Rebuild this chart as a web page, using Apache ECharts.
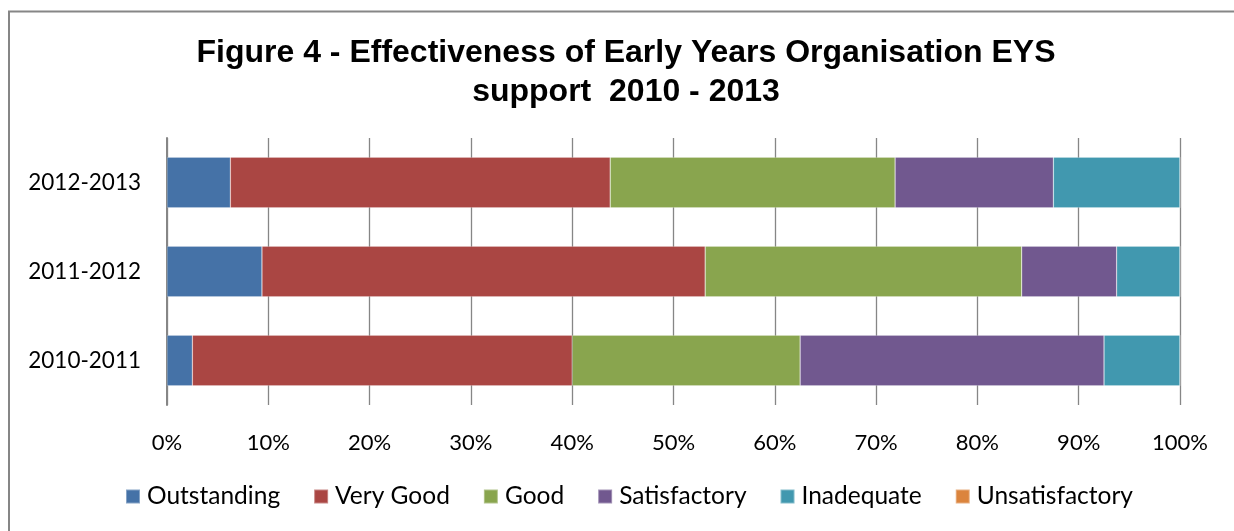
<!DOCTYPE html>
<html>
<head>
<meta charset="utf-8">
<script src="https://cdn.jsdelivr.net/npm/echarts@6/dist/echarts.min.js"></script>
<style>
  html, body { margin: 0; padding: 0; background: #fff; }
  #chart { width: 1234px; height: 531px; }
</style>
</head>
<body>
<div id="chart"></div>
<script>
// Share of ratings per school year (percent of settings)
const categories = ['2010-2011', '2011-2012', '2012-2013'];
const seriesNames = ['Outstanding', 'Very Good', 'Good', 'Satisfactory', 'Inadequate', 'Unsatisfactory'];
const outstanding = [2.5, 9.375, 6.25];
const veryGood = [37.5, 43.75, 37.5];
const good = [22.5, 31.25, 28.125];
const satisfactory = [30, 9.375, 15.625];
const inadequate = [7.5, 6.25, 12.5];
const unsatisfactory = [0, 0, 0];
const tickLabels = ['0%', '10%', '20%', '30%', '40%', '50%', '60%', '70%', '80%', '90%', '100%'];

const colors = ['#4572A7', '#AA4643', '#89A54E', '#71588F', '#4198AF', '#DB843D'];
const values = [outstanding, veryGood, good, satisfactory, inadequate, unsatisfactory];
const bodyFont = 'Lato';

const chart = echarts.init(document.getElementById('chart'), null, { renderer: 'canvas' });

chart.setOption({
  animation: false,
  backgroundColor: '#ffffff',
  color: colors,
  graphic: [{
    type: 'rect',
    shape: { x: 9, y: 11.5, width: 1260, height: 560 },
    style: { fill: null, stroke: '#868686', lineWidth: 2 },
    z: 100
  }],
  title: {
    text: 'Figure 4 - Effectiveness of Early Years Organisation EYS\nsupport  2010 - 2013',
    left: 621,
    top: 29,
    textAlign: 'center',
    textStyle: {
      fontFamily: 'Liberation Sans',
      fontWeight: 'bold',
      fontSize: 32,
      lineHeight: 39,
      color: '#000'
    }
  },
  legend: {
    data: seriesNames,
    left: 125,
    top: 484,
    padding: 0,
    icon: 'rect',
    itemWidth: 14,
    itemHeight: 14,
    itemGap: 33,
    textStyle: { fontFamily: bodyFont, fontSize: 24.5, color: '#000', padding: [0, 0, 0, 2] }
  },
  grid: { left: 167, right: 54, top: 138, bottom: 126 },
  xAxis: {
    type: 'value',
    min: 0,
    max: 100,
    interval: 10,
    axisLine: { show: false },
    axisTick: { show: false },
    splitLine: { show: true, lineStyle: { color: '#868686', width: 1.3 } },
    axisLabel: {
      margin: 27,
      fontFamily: bodyFont,
      fontSize: 22,
      color: '#000',
      formatter: v => tickLabels[Math.round(v / 10)]
    }
  },
  yAxis: {
    type: 'category',
    data: categories,
    axisLine: { show: true, lineStyle: { color: '#868686', width: 2 } },
    axisTick: { show: false },
    axisLabel: { margin: 26, fontFamily: bodyFont, fontSize: 22.5, color: '#000' }
  },
  series: seriesNames.map((name, i) => ({
    name: name,
    type: 'bar',
    stack: 'total',
    barWidth: '57%',
    data: values[i],
    itemStyle: { color: colors[i], borderColor: 'rgba(255,255,255,0.35)', borderWidth: 0.6 }
  }))
});
</script>
</body>
</html>
